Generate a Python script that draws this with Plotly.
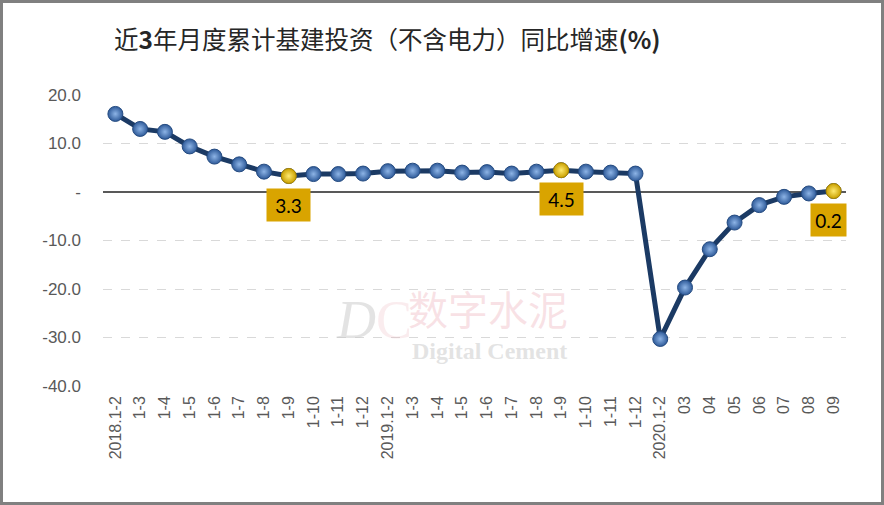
import plotly.graph_objects as go

# ---- data ----
categories = ["2018.1-2", "1-3", "1-4", "1-5", "1-6", "1-7", "1-8", "1-9", "1-10", "1-11", "1-12",
              "2019.1-2", "1-3", "1-4", "1-5", "1-6", "1-7", "1-8", "1-9", "1-10", "1-11", "1-12",
              "2020.1-2", "03", "04", "05", "06", "07", "08", "09"]
growth = [16.1, 13.0, 12.4, 9.4, 7.3, 5.7, 4.2, 3.3, 3.7, 3.7, 3.8,
          4.3, 4.4, 4.4, 4.0, 4.1, 3.8, 4.2, 4.5, 4.2, 4.0, 3.8,
          -30.3, -19.7, -11.8, -6.3, -2.7, -1.0, -0.3, 0.2]
highlight_idx = [7, 18, 29]
y_tickvals = [20, 10, 0, -10, -20, -30, -40]
y_ticktext = ["20.0", "10.0", "-", "-10.0", "-20.0", "-30.0", "-40.0"]
title_text = "近<b>3</b>年月度累计基建投资（不含电力）同比增速<b>(%)</b>"

x_idx = list(range(len(categories)))

fig = go.Figure()

# main line with blue spheres
fig.add_trace(go.Scatter(
    x=x_idx, y=growth, mode="lines+markers",
    line=dict(color="#1B3A64", width=5),
    marker=dict(size=15, color="#2E5A99",
                gradient=dict(type="radial", color="#8DB4E6"),
                line=dict(color="#254B80", width=1)),
    hoverinfo="skip", showlegend=False,
))

# highlighted golden spheres
fig.add_trace(go.Scatter(
    x=[x_idx[i] for i in highlight_idx], y=[growth[i] for i in highlight_idx],
    mode="markers",
    marker=dict(size=15, color="#C9A000",
                gradient=dict(type="radial", color="#FFEA70"),
                line=dict(color="#B08A00", width=1)),
    hoverinfo="skip", showlegend=False,
))

L, R, T, B = 103, 38, 95, 119
W, H = 884, 505
pw, ph = W - L - R, H - T - B


def px(x):
    return (x - L) / pw


def py(y):
    return (H - B - y) / ph


annotations = []
for i in highlight_idx:
    last = (i == len(categories) - 1)
    annotations.append(dict(
        x=x_idx[i], y=growth[i], xref="x", yref="y",
        text=f"{growth[i]:.1f}", showarrow=False,
        yshift=-29, xshift=-5 if last else 0,
        width=35 if last else 43, height=32,
        bgcolor="#D9A400", borderpad=0,
        font=dict(family="Lato, Open Sans, sans-serif", size=19, color="#000000"),
    ))

# watermark
annotations += [
    dict(x=px(374), y=py(320), xref="paper", yref="paper", xanchor="center", yanchor="middle",
         text="<i>D</i><span style='color:rgba(235,170,180,0.45)'>C</span>", showarrow=False,
         font=dict(family="Liberation Serif, serif", size=54, color="rgba(200,200,200,0.5)")),
    dict(x=px(488), y=py(308), xref="paper", yref="paper", xanchor="center", yanchor="middle",
         text="数字水泥", showarrow=False,
         font=dict(family="Noto Sans CJK SC", size=40, color="rgba(235,170,180,0.35)")),
    dict(x=px(489), y=py(351), xref="paper", yref="paper", xanchor="center", yanchor="middle",
         text="<b>Digital Cement</b>", showarrow=False,
         font=dict(family="Liberation Serif, serif", size=24, color="rgba(200,200,200,0.5)")),
]

fig.update_layout(
    width=W, height=H,
    margin=dict(l=L, r=R, t=T, b=B),
    paper_bgcolor="white", plot_bgcolor="white",
    title=dict(text=title_text, xref="container", yref="container",
               x=114 / W, xanchor="left", y=1 - 40 / H, yanchor="middle",
               font=dict(family="Noto Sans CJK SC", size=24.5, color="#262626")),
    xaxis=dict(range=[-0.5, len(categories) - 0.5], tickmode="array",
               tickvals=x_idx, ticktext=categories, tickangle=-90,
               showgrid=False, zeroline=False, showline=False, ticks="",
               ticklabelstandoff=6,
               tickfont=dict(family="Liberation Sans, Arial", size=16, color="#595959"),
               automargin=False),
    yaxis=dict(range=[-40, 20], tickmode="array", tickvals=y_tickvals, ticktext=y_ticktext,
               showgrid=True, gridcolor="#D9D9D9", griddash="dash", gridwidth=1,
               zeroline=True, zerolinecolor="#595959", zerolinewidth=2,
               showline=False, ticks="", ticklabelstandoff=21,
               tickfont=dict(family="Liberation Sans, Arial", size=17, color="#595959"),
               automargin=False),
    annotations=annotations,
    shapes=[dict(type="rect", xref="paper", yref="paper",
                 x0=px(1.5), x1=px(W - 1.5), y0=py(H - 1.5), y1=py(1.5),
                 line=dict(color="#808080", width=3), fillcolor="rgba(0,0,0,0)", layer="above")],
)

fig.write_html("out.html", config={"displayModeBar": False},
               post_script="document.body.style.margin='0';document.body.style.overflow='hidden';")
